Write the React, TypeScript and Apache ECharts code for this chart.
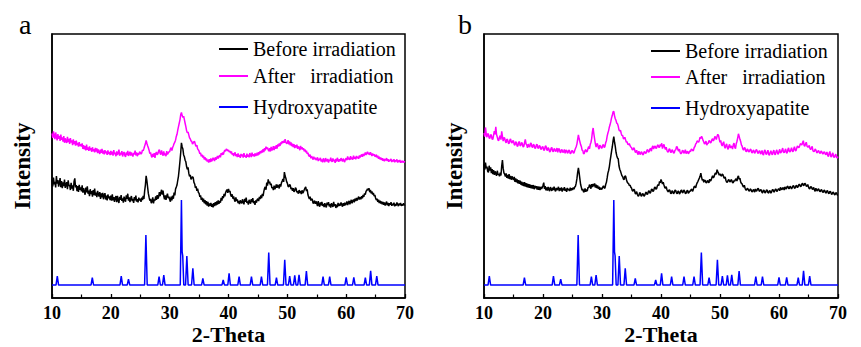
import React, { useEffect, useRef } from "react";
import * as echarts from "echarts";

// 2-Theta range of the scans
const THETA_MIN = 10;
const THETA_MAX = 70;

// Panel a – sampled every 0.125° from 10 to 70 (relative intensity, arbitrary units)
const beforeA = [
  44.8, 42.3, 45.6, 43.1, 44.0, 41.9, 46.2, 43.3, 44.7, 42.2, 43.5, 45.4, 42.0, 44.3, 41.6, 43.8, 42.4, 44.9, 41.7, 43.0,
  43.9, 41.2, 44.6, 42.5, 42.8, 40.9, 43.6, 41.4, 42.7, 40.6, 44.2, 45.3, 41.9, 42.8, 40.5, 42.4, 40.2, 42.9, 41.0, 41.9,
  40.4, 42.7, 39.9, 41.6, 40.3, 39.1, 41.8, 40.0, 42.3, 39.5, 40.7, 38.6, 41.2, 39.4, 40.5, 38.4, 40.9, 39.0, 41.4, 38.8,
  39.9, 38.2, 40.6, 39.3, 38.4, 40.1, 37.5, 39.6, 38.1, 39.8, 37.4, 38.9, 39.7, 37.3, 38.8, 37.0, 39.2, 37.8, 38.5, 37.1,
  38.8, 36.9, 39.3, 37.0, 38.2, 36.4, 37.9, 38.6, 36.3, 38.7, 37.1, 36.0, 38.3, 37.2, 39.0, 36.8, 37.7, 36.1, 38.4, 37.3,
  36.5, 38.9, 37.6, 39.5, 36.9, 38.1, 36.3, 37.8, 38.6, 36.7, 37.5, 36.0, 38.2, 37.0, 38.8, 36.5, 37.4, 36.2, 38.0, 36.9,
  37.6, 36.4, 38.0, 37.1, 38.7, 37.5, 40.6, 42.8, 46.3, 44.5, 42.0, 39.6, 38.2, 36.9, 37.5, 35.9, 36.6, 38.1, 35.8, 37.4,
  36.9, 38.5, 37.2, 39.0, 37.6, 38.3, 40.1, 38.6, 39.9, 41.0, 39.2, 40.7, 38.5, 37.4, 38.9, 37.2, 38.6, 39.5, 37.8, 38.4,
  37.3, 36.5, 38.4, 37.0, 38.8, 37.6, 39.9, 38.9, 41.3, 42.0, 42.8, 44.6, 46.2, 48.9, 51.8, 55.0, 58.8, 57.2, 56.4, 54.2,
  53.5, 52.2, 51.6, 49.8, 48.7, 49.5, 47.3, 46.1, 46.6, 44.9, 45.4, 46.0, 45.6, 43.8, 43.2, 41.7, 42.3, 40.6, 41.4, 40.0,
  39.7, 38.3, 38.9, 37.2, 38.0, 36.5, 37.6, 35.9, 37.1, 35.5, 36.7, 35.0, 36.4, 34.6, 35.8, 34.9, 36.0, 34.5, 35.6, 34.3,
  35.9, 34.8, 36.3, 35.1, 36.6, 35.4, 37.0, 35.7, 36.8, 36.1, 37.9, 36.9, 38.6, 37.8, 39.4, 38.5, 39.9, 40.6, 41.1, 39.8,
  41.3, 40.2, 40.6, 39.0, 38.4, 39.3, 37.6, 38.5, 37.2, 36.5, 38.1, 36.8, 37.4, 35.9, 36.8, 35.6, 37.0, 36.3, 35.8, 37.4,
  36.2, 35.5, 37.6, 36.4, 38.0, 36.0, 36.6, 35.4, 37.2, 36.5, 35.7, 37.5, 36.3, 37.8, 35.9, 36.7, 35.3, 37.0, 36.1, 37.3,
  37.6, 36.7, 38.3, 37.5, 38.9, 37.8, 39.4, 38.6, 40.3, 41.5, 42.1, 41.0, 43.7, 42.6, 44.9, 43.5, 44.1, 42.8, 43.3, 41.6,
  42.0, 40.9, 42.6, 41.2, 41.9, 43.0, 41.7, 42.9, 42.4, 41.5, 43.1, 42.2, 43.6, 44.3, 45.1, 44.0, 47.7, 46.2, 45.4, 44.1,
  43.5, 42.3, 42.1, 43.0, 42.7, 41.2, 41.8, 40.6, 41.6, 40.2, 40.6, 41.8, 41.3, 40.0, 40.4, 39.5, 40.9, 39.8, 40.6, 39.4,
  40.8, 39.7, 40.2, 41.0, 41.6, 42.1, 40.5, 41.2, 39.1, 38.2, 37.5, 38.4, 36.9, 37.6, 37.3, 35.8, 36.1, 36.9, 35.7, 36.6,
  35.9, 34.8, 36.7, 35.3, 34.6, 36.2, 35.1, 36.4, 34.9, 35.6, 34.4, 35.9, 35.0, 34.3, 36.1, 35.2, 36.3, 34.7, 35.5, 34.2,
  35.9, 35.1, 34.5, 36.4, 34.9, 35.6, 34.1, 35.4, 34.4, 36.0, 34.8, 35.7, 35.0, 36.2, 35.3, 34.6, 35.9, 34.9, 36.1, 35.2,
  35.7, 36.6, 35.2, 36.1, 36.8, 35.5, 36.4, 37.2, 35.9, 36.8, 37.3, 36.2, 37.6, 36.7, 37.9, 36.9, 37.7, 38.4, 37.3, 38.2,
  37.4, 38.6, 37.8, 39.0, 38.3, 39.6, 39.2, 40.4, 40.7, 41.4, 40.8, 41.6, 40.1, 40.9, 39.6, 40.4, 39.2, 39.8, 38.6, 39.0,
  37.9, 37.1, 37.6, 36.4, 37.2, 36.0, 36.9, 35.8, 36.6, 35.5, 36.4, 35.3, 36.2, 35.0, 35.8, 36.5, 35.1, 36.0, 34.8, 35.9,
  35.3, 36.3, 34.9, 35.7, 35.2, 36.1, 34.7, 35.6, 35.0, 36.2, 35.4, 34.8, 35.8, 35.1, 36.0, 34.9, 35.5, 35.0, 35.9, 35.2,
  35.4,
];

const afterA = [
  62.4, 60.6, 63.1, 61.4, 60.2, 62.7, 61.0, 59.7, 62.1, 60.3, 61.4, 59.5, 61.9, 59.9, 60.8, 59.2, 61.3, 58.8, 60.5, 59.4,
  58.7, 61.0, 59.1, 60.3, 58.4, 60.6, 58.9, 59.7, 57.9, 60.1, 58.3, 59.4, 57.7, 59.6, 58.0, 58.8, 57.3, 59.0, 57.6, 58.2,
  57.4, 58.6, 56.5, 57.9, 56.3, 57.5, 55.9, 58.1, 56.2, 57.0, 55.7, 57.4, 56.0, 56.8, 55.4, 57.1, 55.6, 56.4, 55.2, 56.9,
  55.5, 56.7, 54.9, 56.3, 55.3, 54.6, 56.2, 55.0, 56.5, 54.7, 55.8, 54.4, 56.0, 54.8, 55.5, 54.2, 55.9, 54.6, 55.3, 54.1,
  55.7, 54.3, 55.4, 53.9, 56.0, 54.5, 55.1, 53.7, 55.5, 54.2, 54.9, 56.2, 53.9, 55.0, 54.4, 55.6, 53.6, 54.8, 55.3, 54.0,
  53.5, 55.2, 54.1, 55.7, 53.8, 54.6, 55.4, 53.9, 55.1, 54.3, 53.6, 55.0, 54.4, 55.8, 54.0, 55.2, 53.7, 54.9, 54.2, 55.3,
  55.2, 54.5, 54.9, 56.1, 55.8, 56.6, 57.6, 58.4, 59.7, 58.6, 57.7, 56.9, 56.0, 54.7, 55.2, 53.8, 53.3, 54.6, 53.5, 54.9,
  53.1, 54.7, 55.3, 54.2, 54.6, 55.7, 56.2, 54.8, 54.3, 55.9, 54.7, 53.9, 55.5, 54.1, 54.8, 53.7, 55.6, 54.4, 54.9, 55.4,
  55.4, 56.5, 56.9, 55.8, 57.0, 57.7, 58.5, 59.0, 59.8, 61.2, 62.0, 63.6, 64.9, 66.2, 67.5, 69.4, 70.3, 69.1, 68.4, 68.9,
  67.6, 66.2, 64.9, 63.4, 62.6, 62.9, 61.8, 60.7, 60.3, 59.5, 59.4, 58.3, 58.7, 59.3, 59.2, 58.0, 57.4, 57.9, 56.5, 56.1,
  55.6, 54.6, 55.0, 53.7, 54.3, 53.2, 53.9, 52.5, 53.3, 52.2, 52.9, 51.7, 52.4, 51.3, 52.6, 51.5, 52.9, 51.8, 52.2, 53.1,
  52.6, 51.9, 53.3, 52.4, 53.0, 53.8, 52.8, 53.6, 54.1, 53.3, 54.9, 54.2, 55.1, 54.3, 55.4, 56.0, 55.6, 56.4, 56.2, 55.7,
  56.1, 55.3, 55.7, 54.8, 55.5, 54.3, 54.9, 53.8, 54.6, 55.2, 53.7, 54.5, 53.4, 54.8, 53.5, 54.2, 53.1, 54.6, 53.7, 54.4,
  53.2, 54.9, 53.6, 54.0, 53.1, 54.7, 53.5, 54.3, 53.3, 54.9, 54.1, 53.4, 55.1, 53.8, 54.5, 53.6, 54.8, 53.9, 54.2, 55.0,
  54.0, 55.2, 54.4, 55.6, 54.8, 55.9, 55.1, 56.4, 55.3, 56.8, 55.9, 57.3, 56.5, 57.0, 56.1, 55.6, 56.8, 55.5, 57.2, 55.9,
  56.3, 57.5, 56.0, 57.4, 56.5, 57.9, 56.6, 58.2, 57.4, 58.6, 57.6, 58.9, 58.3, 59.4, 58.7, 59.6, 58.8, 60.2, 59.0, 58.5,
  58.7, 59.8, 58.2, 59.3, 57.8, 58.9, 57.5, 58.5, 57.2, 58.3, 56.8, 57.9, 57.0, 58.1, 56.5, 57.4, 56.9, 56.0, 57.6, 56.4,
  57.1, 56.2, 56.8, 55.6, 56.3, 55.2, 55.8, 54.6, 55.0, 54.0, 53.6, 54.3, 52.9, 53.7, 53.2, 52.4, 53.5, 52.6, 53.1, 52.3,
  52.5, 53.3, 51.9, 52.8, 52.2, 53.1, 51.7, 52.5, 51.4, 52.9, 52.0, 51.5, 53.0, 52.1, 51.8, 52.7, 51.3, 52.4, 51.9, 53.2,
  52.0, 51.6, 52.9, 51.8, 52.4, 51.2, 52.7, 51.7, 53.1, 52.2, 51.6, 52.6, 51.9, 53.0, 52.3, 51.7, 52.8, 52.0, 51.5, 52.6,
  52.9, 52.2, 53.6, 52.5, 53.1, 52.3, 53.7, 52.6, 53.2, 52.4, 53.9, 52.8, 53.4, 52.5, 53.8, 53.0, 53.5, 52.7, 54.0, 53.3,
  53.8, 54.4, 53.5, 54.6, 53.9, 54.3, 55.1, 54.2, 54.9, 55.4, 54.4, 55.0, 54.2, 55.2, 54.5, 53.8, 54.7, 54.0, 54.4, 53.7,
  53.6, 54.3, 53.2, 53.9, 52.7, 53.5, 52.5, 53.2, 52.3, 52.9, 52.0, 52.8, 51.8, 52.7, 52.1, 53.0, 51.9, 52.6, 51.6, 52.4,
  52.0, 52.7, 51.5, 52.3, 51.7, 52.6, 51.4, 52.2, 51.8, 52.5, 51.3, 52.1, 51.6, 52.3, 51.2, 51.9, 51.4, 52.0, 51.3, 51.7,
  51.5,
];

// Panel b
const beforeB = [
  50.7, 48.6, 51.3, 49.2, 49.8, 48.0, 47.6, 50.1, 48.3, 49.5, 47.3, 48.8, 46.9, 48.4, 46.6, 48.0, 47.1, 46.3, 48.2, 46.7,
  47.0, 46.1, 47.5, 46.4, 50.0, 52.2, 49.1, 47.4, 46.9, 46.0, 47.2, 45.5, 46.6, 45.2, 46.9, 45.0, 46.3, 44.8, 46.1, 45.3,
  44.7, 45.9, 44.0, 45.3, 43.8, 44.9, 43.4, 44.6, 43.2, 44.5, 42.9, 44.1, 42.6, 43.8, 42.4, 43.9, 42.2, 43.5, 42.0, 43.3,
  41.8, 43.1, 41.7, 42.9, 41.5, 42.7, 41.4, 42.8, 41.2, 42.5, 41.6, 42.4, 41.1, 42.3, 41.0, 42.2, 40.9, 42.1, 41.3, 41.9,
  42.6, 43.7, 41.3, 42.4, 40.8, 41.9, 40.7, 42.1, 41.1, 40.5, 42.0, 41.2, 40.6, 41.8, 40.9, 42.2, 41.0, 40.4, 41.7, 40.8,
  41.4, 42.1, 40.5, 41.6, 40.7, 41.9, 40.3, 41.5, 40.8, 42.0, 40.6, 41.4, 40.2, 41.7, 40.9, 41.3, 40.5, 41.8, 40.7, 41.6,
  40.9, 41.9, 41.2, 42.0, 42.3, 43.5, 45.2, 47.6, 49.3, 47.4, 45.1, 43.0, 41.9, 40.8, 41.3, 40.1, 40.3, 41.5, 40.2, 41.1,
  40.5, 41.9, 41.7, 42.9, 42.5, 41.4, 43.1, 42.0, 43.2, 42.3, 43.4, 41.8, 42.9, 41.6, 42.7, 41.3, 42.2, 41.0, 41.8, 41.2,
  41.3, 42.0, 42.5, 41.7, 41.6, 43.0, 43.8, 45.5, 47.3, 48.3, 49.8, 51.9, 53.7, 55.6, 57.3, 59.5, 61.1, 59.0, 57.4, 55.2,
  53.9, 53.0, 52.7, 50.1, 48.8, 48.1, 47.2, 46.3, 46.0, 45.1, 44.8, 46.2, 46.1, 45.0, 44.0, 43.5, 43.4, 42.6, 42.8, 42.0,
  41.7, 40.7, 40.4, 41.2, 40.9, 39.6, 39.5, 40.3, 39.2, 38.6, 38.8, 39.9, 39.7, 38.6, 38.7, 39.6, 39.3, 38.5, 38.9, 39.8,
  40.1, 39.2, 39.4, 40.5, 40.5, 39.7, 40.0, 41.1, 41.2, 40.3, 40.6, 41.7, 42.1, 41.2, 41.4, 42.4, 43.0, 42.6, 44.2, 43.6,
  44.9, 44.1, 43.2, 43.9, 42.8, 41.9, 41.6, 42.2, 41.1, 40.5, 40.2, 41.0, 40.8, 39.7, 39.6, 40.6, 40.3, 39.5, 39.9, 40.9,
  40.7, 39.8, 39.5, 40.4, 40.4, 39.4, 39.8, 40.7, 40.9, 39.8, 40.1, 40.9, 40.5, 39.6, 39.7, 40.5, 40.8, 39.7, 40.0, 40.6,
  40.4, 41.2, 41.0, 40.4, 41.4, 42.2, 42.3, 41.7, 42.9, 43.6, 44.1, 44.8, 45.4, 46.1, 47.3, 45.8, 44.6, 45.0, 43.8, 44.7,
  44.5, 43.7, 43.6, 44.5, 44.2, 43.6, 45.0, 44.3, 44.7, 45.6, 46.3, 45.5, 46.0, 46.9, 47.4, 46.8, 48.6, 47.9, 47.3, 46.5,
  47.1, 46.4, 46.2, 47.0, 46.7, 45.8, 45.3, 45.9, 44.6, 43.9, 43.8, 44.6, 44.9, 44.1, 44.0, 44.8, 44.6, 43.6, 43.7, 44.5,
  44.2, 45.0, 45.1, 44.3, 45.8, 46.2, 44.9, 45.4, 44.0, 43.4, 43.2, 42.4, 42.0, 42.7, 41.6, 40.9, 40.9, 41.6, 41.3, 40.6,
  40.5, 41.3, 41.1, 40.3, 40.2, 41.0, 40.9, 40.1, 41.3, 40.5, 40.6, 41.4, 41.5, 40.6, 40.4, 41.1, 40.9, 39.9, 39.9, 40.9,
  40.6, 39.8, 40.1, 40.9, 40.8, 39.9, 39.8, 40.6, 40.5, 39.7, 40.2, 41.0, 41.0, 40.1, 40.4, 41.2, 41.2, 40.3, 40.7, 41.3,
  41.3, 40.6, 41.9, 41.2, 41.0, 41.8, 41.6, 40.9, 42.1, 41.4, 41.4, 42.2, 42.3, 41.5, 41.5, 42.3, 42.0, 41.3, 41.8, 42.5,
  42.4, 41.6, 41.7, 42.5, 42.6, 41.8, 42.2, 43.0, 43.0, 42.2, 42.3, 43.2, 43.5, 42.6, 42.7, 43.5, 43.1, 42.3, 42.4, 43.0,
  42.1, 41.4, 41.5, 42.2, 42.0, 41.3, 41.2, 41.9, 41.0, 40.4, 41.6, 40.9, 40.5, 41.3, 41.2, 40.4, 40.3, 41.0, 40.9, 40.2,
  40.0, 40.8, 40.7, 39.9, 39.8, 40.6, 40.5, 39.7, 39.6, 40.4, 40.2, 39.4, 39.3, 40.1, 40.0, 39.2, 39.1, 39.9, 39.7, 39.0,
  39.0,
];

const afterB = [
  62.5, 61.1, 64.6, 62.2, 60.9, 62.3, 62.0, 60.6, 60.5, 61.9, 61.6, 60.2, 60.1, 61.7, 63.2, 62.0, 64.8, 61.9, 61.0, 59.8,
  59.6, 60.9, 61.5, 60.0, 63.1, 61.2, 59.4, 60.8, 60.6, 59.3, 58.8, 60.2, 59.9, 58.7, 58.5, 59.8, 60.3, 59.0, 58.7, 59.6,
  59.4, 58.1, 57.9, 59.2, 58.8, 57.4, 57.6, 59.0, 59.2, 57.6, 57.8, 58.9, 58.5, 57.2, 57.4, 58.8, 60.1, 58.4, 57.9, 56.9,
  58.3, 57.5, 57.2, 58.6, 58.6, 57.3, 57.0, 58.2, 57.9, 56.7, 56.8, 58.0, 58.2, 56.9, 56.7, 57.8, 57.5, 56.3, 56.5, 57.3,
  57.2, 55.9, 56.1, 57.4, 57.6, 56.2, 55.8, 57.0, 56.5, 55.3, 55.6, 56.8, 57.0, 55.7, 55.4, 56.6, 56.3, 55.5, 55.9, 56.8,
  55.2, 56.3, 56.6, 55.4, 55.0, 56.2, 56.1, 55.1, 55.4, 56.3, 54.8, 55.9, 56.0, 54.9, 55.1, 56.1, 55.7, 54.6, 54.9, 55.8,
  55.8, 55.0, 54.9, 55.9, 56.6, 57.3, 58.3, 60.1, 61.8, 60.3, 59.2, 58.1, 57.4, 56.0, 55.8, 54.6, 54.8, 55.9, 56.2, 55.3,
  55.6, 56.6, 57.4, 56.5, 58.1, 58.9, 60.4, 62.9, 64.4, 62.1, 60.2, 58.4, 57.2, 58.5, 58.3, 57.0, 56.4, 57.9, 57.6, 56.8,
  56.8, 57.9, 58.1, 57.0, 57.4, 58.8, 59.6, 61.3, 62.5, 63.4, 64.8, 65.7, 66.9, 68.3, 69.2, 70.5, 70.7, 69.0, 67.9, 67.3,
  66.2, 66.0, 65.1, 63.7, 63.2, 63.6, 62.4, 61.5, 61.6, 60.4, 60.3, 60.9, 59.9, 59.0, 59.2, 58.2, 58.1, 58.5, 57.7, 57.2,
  57.0, 56.2, 56.1, 56.9, 56.5, 55.3, 55.2, 56.0, 54.9, 54.3, 55.6, 54.8, 54.3, 55.3, 55.2, 54.4, 54.2, 55.3, 55.4, 54.7,
  55.0, 56.0, 56.2, 55.2, 55.5, 56.5, 56.6, 55.6, 57.1, 57.6, 56.4, 57.3, 57.6, 56.7, 56.8, 57.7, 58.0, 57.1, 57.1, 58.2,
  57.5, 58.6, 56.6, 57.5, 58.2, 57.0, 56.3, 57.1, 56.0, 55.3, 55.4, 56.5, 56.4, 55.2, 55.2, 56.2, 55.8, 54.9, 55.0, 56.0,
  56.1, 57.3, 57.2, 56.1, 55.6, 56.4, 55.1, 54.6, 54.9, 55.9, 55.8, 54.8, 55.3, 56.2, 54.7, 55.3, 55.6, 54.6, 55.0, 55.8,
  55.4, 56.4, 56.3, 55.8, 55.9, 57.0, 57.4, 58.3, 58.6, 59.5, 59.3, 59.0, 59.8, 60.9, 60.4, 61.3, 60.6, 59.7, 59.1, 58.3,
  58.8, 59.4, 57.9, 58.5, 58.6, 59.6, 59.5, 58.7, 59.0, 60.0, 60.3, 59.5, 60.1, 61.2, 60.8, 60.0, 61.2, 62.0, 61.6, 60.2,
  59.0, 59.7, 58.2, 57.6, 58.6, 59.2, 57.4, 56.7, 57.8, 58.4, 56.9, 56.3, 57.5, 58.2, 56.8, 57.6, 57.3, 56.4, 58.0, 58.7,
  57.1, 56.6, 58.4, 59.3, 60.6, 62.2, 61.2, 60.1, 59.3, 58.0, 57.5, 56.4, 56.0, 56.9, 56.8, 55.6, 55.4, 56.5, 56.1, 55.3,
  55.5, 56.4, 56.2, 55.1, 55.0, 56.0, 55.8, 54.8, 55.3, 56.2, 56.0, 55.0, 54.8, 55.7, 55.7, 54.5, 55.0, 55.9, 54.5, 54.1,
  55.6, 56.1, 54.8, 54.3, 55.3, 56.0, 54.4, 54.0, 55.1, 55.8, 54.7, 54.2, 55.4, 56.0, 54.6, 54.2, 55.5, 56.1, 54.9, 54.4,
  55.6, 56.3, 54.9, 55.2, 56.0, 56.8, 55.3, 55.0, 55.8, 56.5, 55.1, 54.9, 56.2, 56.9, 55.5, 55.3, 56.1, 56.9, 55.7, 55.4,
  56.5, 57.3, 55.9, 55.8, 56.7, 57.6, 57.2, 56.9, 57.6, 58.4, 58.3, 57.9, 58.9, 59.6, 57.8, 57.5, 58.4, 59.0, 57.5, 57.2,
  57.2, 57.8, 56.6, 56.2, 56.9, 57.4, 55.8, 55.5, 55.6, 56.4, 56.1, 55.2, 55.0, 55.8, 55.7, 54.9, 54.8, 55.7, 55.4, 54.6,
  54.6, 55.4, 55.2, 54.3, 54.5, 55.3, 54.0, 53.6, 54.9, 55.5, 53.8, 53.4, 54.4, 55.0, 53.5, 53.2, 54.0, 54.5, 53.3, 53.0,
  53.6,
];

// Hydroxyapatite reference pattern: [2-theta, intensity] (same in both panels)
const hapProfile = [
  [10, 4.9], [10.68, 4.9], [10.9, 8.3], [11.12, 4.9],
  [16.63, 4.9], [16.85, 7.7], [17.07, 4.9],
  [21.55, 4.9], [21.77, 8.3], [21.99, 4.9],
  [22.78, 4.9], [23.0, 7.1], [23.22, 4.9],
  [25.74, 4.9], [25.96, 23.9], [26.18, 4.9],
  [27.98, 4.9], [28.2, 8.1], [28.42, 4.9],
  [28.78, 4.9], [29.0, 8.7], [29.22, 4.9],
  [31.8, 4.9], [32.0, 37.1], [32.12, 17.5], [32.22, 16.0], [32.4, 4.9],
  [32.7, 4.9], [32.92, 15.9], [33.14, 4.9],
  [33.72, 4.9], [33.94, 11.2], [34.16, 4.9],
  [35.42, 4.9], [35.64, 7.4], [35.86, 4.9],
  [38.88, 4.9], [39.1, 6.8], [39.32, 4.9],
  [39.88, 4.9], [40.1, 9.3], [40.32, 4.9],
  [41.58, 4.9], [41.8, 8.1], [42.02, 4.9],
  [43.68, 4.9], [43.9, 8.1], [44.12, 4.9],
  [45.38, 4.9], [45.6, 8.1], [45.82, 4.9],
  [46.62, 4.9], [46.84, 17.2], [47.06, 4.9],
  [47.93, 4.9], [48.15, 7.7], [48.37, 4.9],
  [49.34, 4.9], [49.56, 14.5], [49.78, 4.9],
  [50.18, 4.9], [50.4, 8.3], [50.62, 4.9],
  [51.04, 4.9], [51.26, 8.6], [51.48, 4.9],
  [51.77, 4.9], [51.99, 8.8], [52.21, 4.9],
  [53.02, 4.9], [53.24, 10.2], [53.46, 4.9],
  [55.85, 4.9], [56.07, 8.1], [56.29, 4.9],
  [56.98, 4.9], [57.2, 8.1], [57.42, 4.9],
  [59.78, 4.9], [60.0, 7.8], [60.22, 4.9],
  [61.08, 4.9], [61.3, 7.8], [61.52, 4.9],
  [63.04, 4.9], [63.26, 7.7], [63.48, 4.9],
  [63.94, 4.9], [64.16, 10.3], [64.38, 4.9],
  [64.98, 4.9], [65.2, 8.3], [65.42, 4.9],
  [70, 4.9],
];

const xTicks = [10, 20, 30, 40, 50, 60, 70];
const panelLabels = ["a", "b"];
const seriesNames = ["Before irradiation", "After   irradiation", "Hydroxyapatite"];

const FONT = "'Liberation Serif', 'Times New Roman', serif";

function toPairs(ys: number[]) {
  const step = (THETA_MAX - THETA_MIN) / (ys.length - 1);
  return ys.map((y, i) => [THETA_MIN + i * step, y]);
}

export default function App() {
  const ref = useRef<HTMLDivElement>(null);

  useEffect(() => {
    if (!ref.current) return;
    const chart = echarts.init(ref.current, undefined, { renderer: "svg" });

    const grids = [
      { left: 52, top: 34, width: 353, height: 264 },
      { left: 484, top: 34, width: 354, height: 264 },
    ];

    const makeX = (gi: number) => ({
      type: "value",
      gridIndex: gi,
      min: xTicks[0],
      max: xTicks[xTicks.length - 1],
      interval: 10,
      axisLine: { show: true, lineStyle: { color: "#000", width: 1.5 } },
      axisTick: { show: true, inside: true, length: 4, lineStyle: { color: "#000", width: 1.3 } },
      minorTick: { show: true, splitNumber: 2, length: 3.5, lineStyle: { color: "#000", width: 1.2 } },
      splitLine: { show: false },
      axisLabel: {
        color: "#000",
        fontFamily: FONT,
        fontWeight: "bold",
        fontSize: 18,
        margin: 6,
      },
      name: "2-Theta",
      nameLocation: "middle",
      nameGap: 25,
      nameMoveOverlap: false,
      nameTextStyle: { color: "#000", fontFamily: FONT, fontWeight: "bold", fontSize: 22 },
    });

    const makeY = (gi: number) => ({
      type: "value",
      gridIndex: gi,
      min: 0,
      max: 100,
      axisLine: { show: true, lineStyle: { color: "#000", width: 1.5 } },
      axisTick: { show: false },
      axisLabel: { show: false },
      splitLine: { show: false },
      name: "Intensity",
      nameLocation: "middle",
      nameGap: 18,
      nameMoveOverlap: false,
      nameTextStyle: { color: "#000", fontFamily: FONT, fontWeight: "bold", fontSize: 23 },
    });

    const colors = ["#000000", "#ff00ff", "#0000ff"];
    const data = [
      [toPairs(beforeA), toPairs(afterA), hapProfile],
      [toPairs(beforeB), toPairs(afterB), hapProfile],
    ];

    const series: any[] = [];
    [0, 1].forEach((gi) => {
      seriesNames.forEach((name, si) => {
        series.push({
          type: "line",
          name,
          xAxisIndex: gi,
          yAxisIndex: gi,
          data: data[gi][si],
          symbol: "none",
          lineStyle: { color: colors[si], width: 1.5 },
          itemStyle: { color: colors[si] },
        });
      });
    });

    const legendLeft = [219, 651];
    const legendTops = [
      [39, 66, 97],
      [41, 67, 98],
    ];
    const legends: any[] = [];
    [0, 1].forEach((gi) => {
      seriesNames.forEach((name, si) => {
        legends.push({
          left: legendLeft[gi],
          top: legendTops[gi][si],
          padding: 0,
          icon: "rect",
          itemWidth: 29,
          itemHeight: 2,
          selectedMode: false,
          data: [name],
          textStyle: { color: "#000", fontFamily: FONT, fontSize: 20 },
        });
      });
    });

    chart.setOption({
      animation: false,
      backgroundColor: "#fff",
      title: panelLabels.map((t, i) => ({
        text: t,
        left: [19, 458][i],
        top: 10,
        padding: 0,
        textStyle: { color: "#000", fontFamily: FONT, fontWeight: "normal", fontSize: 28 },
      })),
      grid: grids.map((g) => ({
        ...g,
        show: true,
        borderColor: "#000",
        borderWidth: 1.5,
        backgroundColor: "transparent",
        outerBoundsMode: "none",
        containLabel: false,
      })),
      xAxis: [makeX(0), makeX(1)],
      yAxis: [makeY(0), makeY(1)],
      legend: legends,
      series,
    });

    return () => chart.dispose();
  }, []);

  return (
    <div
      ref={ref}
      style={{ position: "fixed", left: 0, top: 0, width: 861, height: 347, background: "#fff" }}
    />
  );
}
